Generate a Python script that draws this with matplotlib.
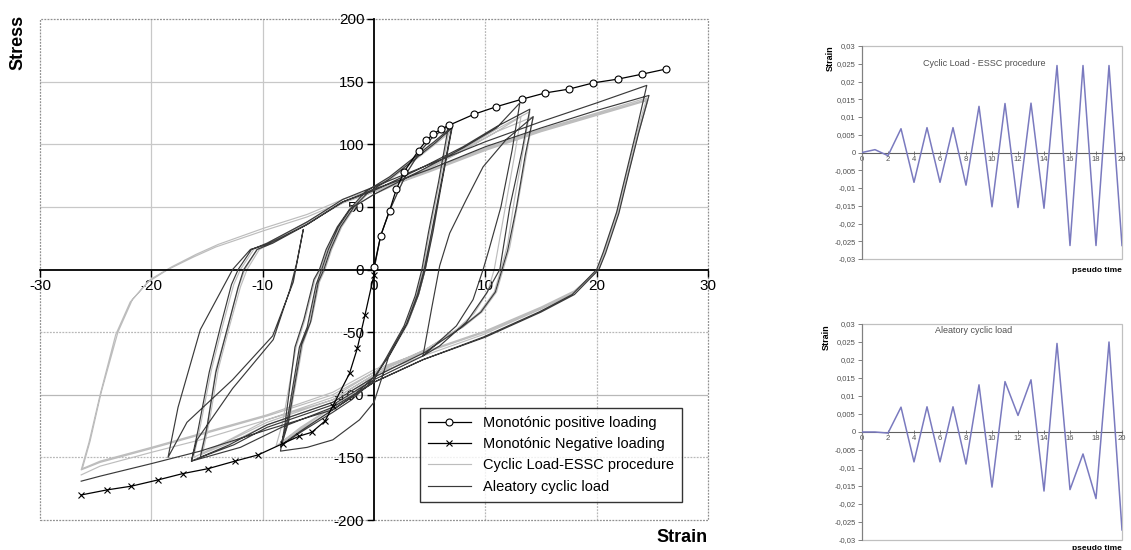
import matplotlib
matplotlib.use("Agg")
import matplotlib.pyplot as plt
from matplotlib.patches import Rectangle

plt.rcParams['font.family'] = ['Liberation Sans', 'DejaVu Sans']
plt.rcParams['axes.unicode_minus'] = False

# ---------------- data: main hysteresis chart ----------------
mono_pos_strain = [0, 0.6, 1.4, 2.0, 2.7, 4.0, 4.7, 5.3, 6.0, 6.7, 9.0, 11.0, 13.3, 15.4, 17.5, 19.7, 21.9, 24.1, 26.2]
mono_pos_stress = [2, 27, 47, 64, 78, 95, 103, 108, 112, 115, 124, 130, 136, 141, 144, 149, 152, 156, 160]

mono_neg_strain = [0, -0.8, -1.5, -2.2, -3.7, -4.4, -5.6, -6.7, -8.2, -10.4, -12.5, -14.9, -17.2, -19.4, -21.8, -24.0, -26.3]
mono_neg_stress = [-4, -36, -63, -83, -109, -121, -130, -133, -139, -148, -153, -159, -163, -168, -173, -176, -180]

essc_strain = [
    0, 0.6, 1.4, 2.2, 3.0, 4.2, 5.3, 6.8,
    5.9, 5.0, 4.4, 3.8, 2.8, 1.1, 0, -2, -3.7, -6.6, -8.3,
    -7.8, -6.6, -5.9, -5.1, -4.6, -4.0, -3.1, -1.9, -0.7, 1.5, 3.5, 5.5, 7.0,
    6.1, 5.2, 4.6, 4.0, 3.0, 1.3, 0, -2, -3.8, -6.6, -8.2,
    -7.6, -6.4, -5.6, -4.9, -4.4, -3.8, -2.9, -1.7, -0.5, 1.5, 3.5, 5.5, 6.9,
    6.0, 5.2, 4.6, 4.0, 3.0, 1.2, 0, -2, -3.7, -6.6, -8.8,
    -8.2, -7.0, -6.2, -5.3, -4.8, -4.2, -3.2, -2.2, 0, 4, 8, 11, 13.2,
    12.6, 11.8, 11.2, 10.8, 10.2, 9.0, 7.4, 4.4, 0, -3.7, -9.6, -12.6, -15.6,
    -15.0, -14.2, -13.2, -12.2, -11.6, -10.5, -9.1, -6, -2.8, 0, 4, 8, 11, 14.0,
    13.4, 12.6, 12.0, 11.4, 10.8, 9.5, 7.8, 4.6, 0, -3.7, -9.6, -12.6, -15.4,
    -14.8, -14.0, -13.0, -12.0, -11.4, -10.3, -9.0, -6, -2.8, 0, 4, 8, 11, 14.3,
    13.7, 12.9, 12.2, 11.6, 11.0, 9.7, 8.0, 4.6, 0, -3.7, -9.6, -13.0, -16.2,
    -15.6, -14.6, -13.6, -12.6, -12.0, -10.8, -9.4, -6, -2.8, 0, 5, 10, 15, 20, 24.6,
    23.7, 22.8, 21.9, 20.7, 20.2, 18, 15, 10, 4.4, 0, -3.7, -9.6, -15.6, -20, -24.6, -26.3,
    -25.6, -24.6, -23.2, -21.9, -20.3, -18.5, -16.2, -14.2, -9.9, -6, -2.8, 0, 5, 10, 15, 20, 24.6,
    23.7, 22.8, 21.9, 20.7, 20.2, 18, 15, 10, 4.4, 0, -3.7, -9.6, -15.6, -20, -24.6, -26.2,
    -25.5, -24.5, -23.0, -21.7, -20.1, -18.2, -16, -14, -9.9, -6, -2.8, 0, 5, 10, 15, 20, 24.5,
    23.6, 22.7, 21.8, 20.6, 20.1, 17.9, 14.9, 9.8, 4.4, 0, -3.7, -9.6, -15.6, -20, -24.6, -26.3,
]
essc_stress = [
    0, 27, 47, 63, 78, 95, 106, 114,
    70, 30, 0, -21, -45, -72, -86, -102, -112, -128, -139,
    -125, -61, -45, -12, 0, 16, 34, 50, 62, 74, 88, 102, 112,
    70, 30, 0, -20, -44, -70, -84, -100, -110, -126, -137,
    -120, -60, -40, -10, 0, 16, 34, 50, 61, 72, 86, 100, 110,
    68, 28, 0, -20, -43, -70, -84, -100, -110, -127, -141,
    -122, -62, -40, -8, 0, 16, 34, 48, 60, 76, 95, 110, 122,
    90, 50, 20, 0, -18, -35, -48, -66, -86, -106, -124, -137, -148,
    -125, -80, -48, -15, 0, 16, 22, 38, 54, 63, 78, 96, 112, 126,
    95, 55, 20, 0, -18, -34, -46, -64, -84, -104, -122, -135, -147,
    -122, -80, -46, -14, 0, 16, 22, 37, 53, 62, 77, 95, 110, 122,
    92, 52, 18, 0, -18, -34, -46, -64, -82, -102, -120, -136, -150,
    -125, -80, -45, -12, 0, 16, 22, 38, 54, 62, 79, 96, 111, 124, 136,
    108, 76, 44, 13, 0, -18, -31, -50, -67, -82, -100, -117, -132, -143, -154, -160,
    -138, -100, -52, -26, -10, 0, 10, 18, 31, 42, 54, 62, 78, 95, 110, 123, 135,
    107, 75, 43, 12, 0, -17, -30, -49, -66, -80, -98, -116, -131, -142, -153, -159,
    -137, -98, -50, -24, -8, 2, 12, 20, 33, 44, 56, 64, 80, 97, 112, 125, 137,
    109, 77, 45, 13, 0, -19, -32, -52, -69, -84, -104, -120, -136, -146, -157, -164,
]

aleatory_strain = [
    0, 0.6, 1.4, 2.2, 3.0, 4.2, 5.3, 6.7,
    5.8, 4.9, 4.3, 3.7, 2.7, 1.0, 0, -2, -3.7, -6.6, -8.4,
    -7.9, -6.7, -6.0, -5.2, -4.7, -4.1, -3.2, -2.0, -0.8, 1.4, 3.4, 5.4, 7.0,
    6.1, 5.2, 4.5, 3.9, 2.9, 1.2, 0, -2, -3.7, -6.6, -8.3,
    -7.7, -6.5, -5.7, -5.0, -4.5, -3.9, -3.0, -1.8, -0.6, 1.5, 3.5, 5.5, 7.0,
    6.1, 5.3, 4.6, 4.0, 3.0, 1.3, 0, -1.3, -3.7, -6.0, -8.4,
    -8.0, -7.1, -6.3, -5.4, -4.9, -4.3, -3.3, -2.2, 0, 4, 8, 11, 13.1,
    12.4, 11.4, 10.3, 9.8, 8.9, 7.4, 4.4, 0, -3.7, -9.6, -12.6, -15.6,
    -15.0, -14.2, -13.2, -12.2, -11.7, -10.5, -9.1, -6, -2.8, 0, 4, 8, 11, 14.0,
    13.3, 12.2, 11.3, 10.1, 8.3, 5.9, 4.4,
    5.2, 5.9, 6.8, 8.3, 9.8, 11.9, 14.3,
    13.6, 12.8, 12.0, 11.5, 10.9, 9.6, 7.9, 4.6, 0, -3.7, -9.6, -13.0, -16.4,
    -15.8, -14.8, -13.8, -12.8, -12.2, -11.0, -9.6, -6, -2.8, 0, 5, 10, 15, 20, 24.5,
    23.6, 22.7, 21.8, 20.6, 20.0, 17.8, 14.8, 9.8, 4.4, 0, -3.7, -8.3, -12.0, -16.4,
    -15.9, -12.7, -9.05, -7.55, -6.95, -6.35,
    -7.25, -9.1, -12.7, -16.8, -18.5,
    -17.6, -15.6, -12.7, -11.1, -9.6, -6, -2.8, 0, 5, 10, 15, 20, 24.7,
    23.8, 22.9, 22.0, 20.8, 20.2, 18, 15, 10, 4.4, 0, -3.7, -9.6, -15.6, -20, -24.6, -26.3,
]
aleatory_stress = [
    0, 27, 47, 63, 78, 95, 106, 115,
    70, 30, 0, -21, -45, -72, -88, -104, -114, -130, -141,
    -126, -62, -46, -12, 0, 16, 34, 50, 62, 74, 88, 102, 114,
    72, 31, 0, -20, -44, -71, -86, -102, -112, -129, -140,
    -122, -60, -42, -10, 0, 16, 34, 50, 61, 73, 87, 101, 113,
    70, 30, 0, -20, -43, -70, -106, -120, -136, -142, -145,
    -124, -62, -40, -8, 0, 16, 34, 48, 60, 78, 97, 113, 133,
    95, 50, 15, 0, -24, -45, -69, -88, -108, -126, -140, -150,
    -126, -82, -48, -14, 0, 16, 21, 36, 54, 63, 80, 98, 114, 128,
    95, 50, 0, -19, -42, -61, -69,
    -30, 3, 29, 56, 82, 104, 122,
    92, 50, 15, 0, -18, -34, -46, -66, -86, -106, -124, -140, -153,
    -128, -82, -46, -12, 0, 16, 21, 38, 56, 66, 84, 102, 118, 133, 147,
    112, 79, 46, 14, 0, -20, -34, -54, -72, -90, -110, -126, -142, -153,
    -136, -95, -56, -16, 5, 32,
    -10, -53, -88, -122, -150,
    -110, -48, 0, 16, 20, 36, 54, 64, 80, 98, 113, 127, 139,
    110, 78, 45, 13, 0, -20, -34, -54, -72, -90, -112, -128, -145, -155, -165, -169,
]

main_xticks = [-30, -20, -10, 0, 10, 20, 30]
main_yticks = [-200, -150, -100, -50, 0, 50, 100, 150, 200]
legend_labels = ["Monotónic positive loading", "Monotónic Negative loading",
                 "Cyclic Load-ESSC procedure", "Aleatory cyclic load"]

# ---------------- data: loading histories ----------------
pseudo_time = [0, 1, 2, 3, 4, 5, 6, 7, 8, 9, 10, 11, 12, 13, 14, 15, 16, 17, 18, 19, 20]
essc_history = [0, 0.0008, -0.0009, 0.0067, -0.0084, 0.007, -0.0084, 0.007, -0.0092, 0.013, -0.0153,
                0.0138, -0.0155, 0.0139, -0.0157, 0.0245, -0.0262, 0.0245, -0.0262, 0.0245, -0.0262]
aleatory_history = [0, 0, -0.0003, 0.0069, -0.0083, 0.007, -0.0083, 0.007, -0.0089, 0.0131, -0.0153,
                    0.014, 0.0046, 0.0145, -0.0164, 0.0246, -0.016, -0.0061, -0.0185, 0.025, -0.0272]
small_yticks = [-0.03, -0.025, -0.02, -0.015, -0.01, -0.005, 0, 0.005, 0.01, 0.015, 0.02, 0.025, 0.03]
small_yticklabels = ["-0,03", "-0,025", "-0,02", "-0,015", "-0,01", "-0,005", "0",
                     "0,005", "0,01", "0,015", "0,02", "0,025", "0,03"]
small_xticks = [0, 2, 4, 6, 8, 10, 12, 14, 16, 18, 20]

# ---------------- figure ----------------
fig = plt.figure(figsize=(11.31, 5.50), dpi=100)

ax = fig.add_axes([40 / 1131, 1 - 520 / 550, 668 / 1131, 501 / 550])
ax.set_xlim(-30, 30)
ax.set_ylim(-200, 200)

# grid lines
for gx in [-20, -10]:
    ax.axvline(gx, color='#c8c8c8', lw=0.9, zorder=0)
for gx in [10, 20]:
    ax.axvline(gx, color='#b8b8b8', lw=0.9, ls=(0, (1.5, 1)), zorder=0)
for gy in [50, 100, 150]:
    ax.axhline(gy, color='#c8c8c8', lw=0.9, zorder=0)
for gy in [-50, -100, -150]:
    ax.axhline(gy, color='#b8b8b8', lw=0.9, ls=(0, (1.5, 1)) if gy != -100 else '-', zorder=0)

# outer border
ax.add_patch(Rectangle((0, 0), 1, 1, transform=ax.transAxes, fill=False,
                       edgecolor='#909090', lw=0.9, ls=(0, (1.5, 1)), zorder=1, clip_on=False))

# spines crossing at zero
for s in ['top', 'right']:
    ax.spines[s].set_visible(False)
ax.spines['left'].set_position(('data', 0))
ax.spines['bottom'].set_position(('data', 0))
ax.spines['left'].set_linewidth(1.3)
ax.spines['bottom'].set_linewidth(1.3)
ax.set_xticks(main_xticks)
ax.set_yticks(main_yticks)
ax.tick_params(direction='out', length=5, width=1, labelsize=11, pad=2)

ax.plot(essc_strain, essc_stress, color='#bdbdbd', lw=0.85, zorder=2, label=legend_labels[2])
ax.plot(aleatory_strain, aleatory_stress, color='#3a3a3a', lw=0.85, zorder=3, label=legend_labels[3])
ax.plot(mono_pos_strain, mono_pos_stress, color='black', lw=0.9, marker='o', ms=5,
        mfc='white', mec='black', mew=0.8, zorder=4, label=legend_labels[0])
ax.plot(mono_neg_strain, mono_neg_stress, color='black', lw=0.9, marker='x', ms=5,
        mew=0.8, zorder=4, label=legend_labels[1])

h, l = ax.get_legend_handles_labels()
order = [2, 3, 0, 1]
leg = ax.legend([h[i] for i in order], [l[i] for i in order], loc='lower right',
                bbox_to_anchor=(0.972, 0.022), fontsize=10.5, frameon=True, fancybox=False,
                edgecolor='black', handlelength=3.0, borderpad=0.55, labelspacing=0.5)
leg.get_frame().set_linewidth(1.0)
leg.set_zorder(10)

fig.text(18 / 1131, 1 - 42 / 550, "Stress", rotation=90, ha='center', va='center',
         fontsize=13, fontweight='bold')
fig.text(708 / 1131, 1 - 538 / 550, "Strain", ha='right', va='center',
         fontsize=13, fontweight='bold')


def small_chart(rect, title, values, title_xy):
    a = fig.add_axes(rect)
    a.set_xlim(0, 20)
    a.set_ylim(-0.03, 0.03)
    a.add_patch(Rectangle((0, 0), 1, 1, transform=a.transAxes, fill=False,
                          edgecolor='#c0c0c0', lw=0.9, zorder=1, clip_on=False))
    for s in ['top', 'right']:
        a.spines[s].set_visible(False)
    a.spines['bottom'].set_position(('data', 0))
    a.spines['left'].set_color('#808080')
    a.spines['bottom'].set_color('#606060')
    a.set_yticks(small_yticks)
    a.set_yticklabels(small_yticklabels)
    a.set_xticks(small_xticks)
    a.tick_params(axis='y', direction='out', length=3, width=0.7, color='#808080',
                  labelsize=5.5, labelcolor='#505050', pad=1.5)
    a.tick_params(axis='x', direction='inout', length=3, width=0.7, color='#808080',
                  labelsize=5.5, labelcolor='#505050', pad=1)
    a.plot(pseudo_time, values, color='#7a7abf', lw=1.1, zorder=3)
    a.text(title_xy[0], title_xy[1], title, transform=a.transAxes, ha='center', va='center',
           fontsize=6.5, color='#505050')
    return a


small_chart([862 / 1131, 1 - 259 / 550, 260 / 1131, 213 / 550],
            "Cyclic Load - ESSC procedure", essc_history, (0.47, 0.92))
small_chart([862 / 1131, 1 - 540 / 550, 260 / 1131, 216 / 550],
            "Aleatory cyclic load", aleatory_history, (0.43, 0.97))

fig.text(830 / 1131, 1 - 58 / 550, "Strain", rotation=90, ha='center', va='center',
         fontsize=6.5, fontweight='bold')
fig.text(1122 / 1131, 1 - 271 / 550, "pseudo time", ha='right', va='center',
         fontsize=6, fontweight='bold')
fig.text(826 / 1131, 1 - 337 / 550, "Strain", rotation=90, ha='center', va='center',
         fontsize=6.5, fontweight='bold')
fig.text(1122 / 1131, 1 - 548 / 550, "pseudo time", ha='right', va='center',
         fontsize=6, fontweight='bold')

fig.savefig("out.png", dpi=100)
